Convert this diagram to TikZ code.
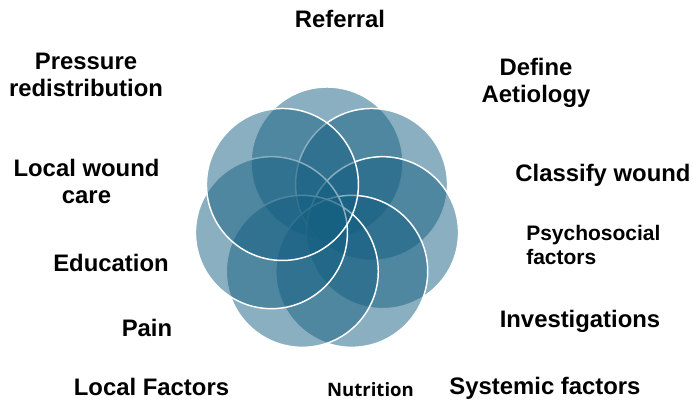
\documentclass[tikz,border=0pt]{standalone}
\usepackage{fontspec}
\setmainfont{Liberation Sans}
\newfontfamily\nutfont{Open Sans}
\definecolor{petal}{RGB}{21,95,129}
\tikzset{
  lbl/.style={font=\bfseries\fontsize{17.9}{20.5}\selectfont, align=center, inner sep=0pt},
  smalllbl/.style={font=\bfseries\fontsize{15.75}{18}\selectfont, align=left, inner sep=0pt},
  petalcircle/.style={fill=petal, fill opacity=0.5, draw=white, line width=1.1pt}
}
\begin{document}
\begin{tikzpicture}[x=0.75pt, y=-0.75pt]
    \useasboundingbox (0, 0) rectangle (693, 402);

    % seven overlapping circles
    \foreach \i in {0,...,6} {
      \pgfmathsetmacro{\a}{90 - \i*360/7}
      \draw[petalcircle] ({327 + 57*cos(\a)}, {220 - 57*sin(\a)}) circle (57pt);
    }

    % labels (base = last line)
    \node[lbl, anchor=base] (referral) at (340, 28) {Referral};
    \node[lbl, anchor=base] (pressure) at (86, 97) {Pressure\\redistribution};
    \node[lbl, anchor=base] (define) at (536, 103) {Define\\Aetiology};
    \node[lbl, anchor=base] (classify) at (603, 182) {Classify wound};
    \node[lbl, anchor=base] (localw) at (86.5, 204) {Local wound\\care};
    \node[smalllbl, anchor=base west] (psycho) at (526, 265) {Psychosocial\\factors};
    \node[lbl, anchor=base] (education) at (111, 272) {Education};
    \node[lbl, anchor=base] (investig) at (580, 328) {Investigations};
    \node[lbl, anchor=base] (pain) at (147, 337) {Pain};
    \node[lbl, anchor=base] (localf) at (151.5, 396) {Local Factors};
    \node[inner sep=0pt, anchor=base, font=\nutfont\bfseries\fontsize{13.9}{16}\selectfont] (nutrition) at (370.5, 397) {Nutrition};
    \node[lbl, anchor=base] (systemic) at (545, 395) {Systemic factors};
  \end{tikzpicture}
\end{document}
